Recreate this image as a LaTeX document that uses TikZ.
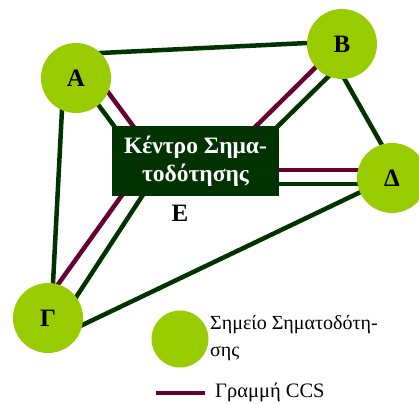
\documentclass[tikz,border=0pt]{standalone}
\usepackage{fontspec}
\setmainfont{Liberation Serif}
\usetikzlibrary{calc,backgrounds}
\definecolor{stgreen}{HTML}{99CC00}
\definecolor{darkgreen}{HTML}{003300}
\definecolor{ccsred}{HTML}{660033}

\begin{document}
\begin{tikzpicture}[x=1pt,y=-1pt,
  station/.style={circle, fill=stgreen, minimum size=70pt, inner sep=0pt, font=\fontsize{25}{28}\selectfont\bfseries},
  hub/.style={fill=darkgreen, text=white, minimum width=167pt, minimum height=70pt, inner sep=0pt, align=center, font=\fontsize{23.5}{28}\selectfont\bfseries},
  link/.style={draw=darkgreen, line width=4.5pt},
  ccs/.style={draw=ccsred, line width=4.5pt},
  legend/.style={inner sep=0pt, align=left, font=\fontsize{20}{27}\selectfont}
]
\useasboundingbox (0,0) rectangle (419,403);
\clip (0,0) rectangle (419,403);

\node[station] (A) at (76,78) {A};
\node[station] (B) at (342,44) {B};
\node[station] (D) at (392,178) {Δ};
\node[station] (G) at (48,318) {Γ};
\node[hub] (E) at (195.5,161) {Κέντρο Σημα-\\τοδότησης};
\node[font=\fontsize{25}{28}\selectfont\bfseries] (Elabel) at (180,213) {Ε};

\node[station, minimum size=57pt] (key) at (180,339) {};
\node[legend, anchor=west] (keytext) at (210,338) {Σημείο Σηματοδότη-\\σης};
\node[legend, anchor=west, font=\fontsize{20.5}{27}\selectfont] (ccstext) at (215,392) {Γραμμή CCS};
\coordinate (keyline) at (156,393);

\begin{scope}[on background layer]
\draw[link] ($(A)+(14,-24.5)$) -- ($(B)+(-22,-1.6)$);
\draw[link] ($(A)+(-13.5,22)$) -- ($(G)+(4.5,-25)$);
\draw[ccs] ($(A)+(26,6)$) -- ($(E)+(-53.5,-23)$);
\draw[link] ($(A)+(18,21)$) -- ($(E)+(-75.5,-27)$);
\draw[ccs] ($(B)+(-20,17)$) -- ($(E)+(49.5,-24)$);
\draw[link] ($(B)+(-7,26)$) -- ($(E)+(76.5,-29)$);
\draw[link] ($(B)+(-2,27)$) -- ($(D)+(-5,-24)$);
\draw[ccs] ($(E)+(70,9)$) -- ($(D)+(-20,-8)$);
\draw[link] ($(E)+(70,23)$) -- ($(D)+(-20,6)$);
\draw[ccs] ($(E)+(-65.5,23)$) -- ($(G)+(6,-28)$);
\draw[link] ($(E)+(-45.5,23)$) -- ($(G)+(23,-13)$);
\draw[link] ($(G)+(26,11)$) -- ($(D)+(-23,10)$);
\end{scope}
\draw[ccs] (keyline) -- ($(keyline -| ccstext.west)+(-10,0)$);
\end{tikzpicture}
\end{document}
